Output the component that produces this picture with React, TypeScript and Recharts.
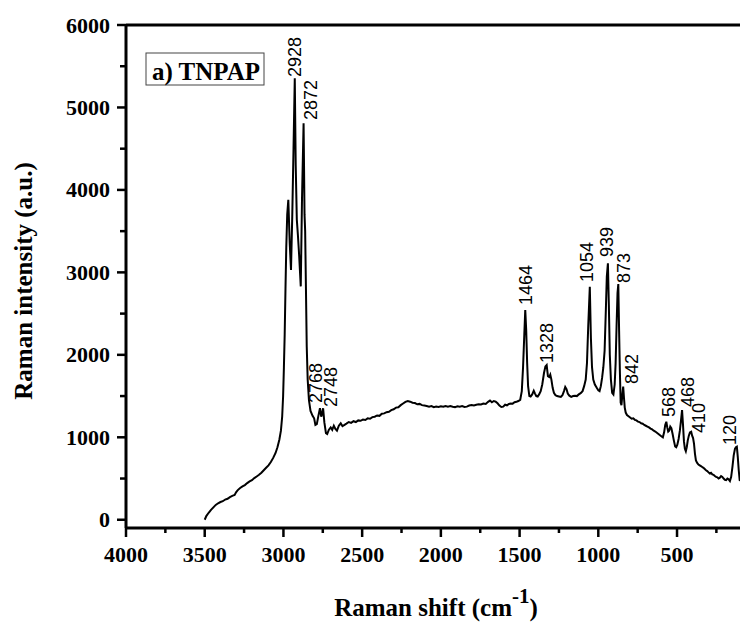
import { ComposedChart, Line, Scatter, XAxis, YAxis, ReferenceLine } from "recharts";

// Raman spectrum of TNPAP: shift (cm-1) and intensity (a.u.)
const shiftCm = [
  3500, 3490, 3475, 3460, 3445, 3430, 3415, 3400, 3385, 3370, 3355, 3340, 3325, 3310, 3300, 3290,
  3275, 3260, 3245, 3230, 3215, 3200, 3185, 3170, 3155, 3140, 3125, 3110, 3095, 3080, 3065, 3050,
  3038, 3026, 3016, 3008, 3002, 2997, 2992, 2987, 2982, 2976, 2969, 2960, 2952, 2944, 2936, 2928,
  2922, 2915, 2908, 2900, 2890, 2882, 2872, 2866, 2862, 2857, 2852, 2846, 2838, 2828, 2815, 2805,
  2797, 2788, 2778, 2768, 2760, 2755, 2748, 2740, 2730, 2722, 2712, 2700, 2690, 2680, 2670, 2660,
  2648, 2636, 2625, 2612, 2600, 2585, 2570, 2555, 2540, 2525, 2510, 2495, 2480, 2465, 2450, 2435,
  2420, 2405, 2390, 2375, 2360, 2345, 2330, 2315, 2300, 2285, 2270, 2255, 2240, 2225, 2210, 2195,
  2180, 2165, 2150, 2135, 2120, 2105, 2090, 2075, 2060, 2045, 2030, 2015, 2000, 1985, 1970, 1955,
  1940, 1925, 1910, 1895, 1880, 1865, 1850, 1835, 1820, 1805, 1790, 1775, 1760, 1745, 1730, 1715,
  1700, 1688, 1676, 1664, 1652, 1640, 1628, 1616, 1604, 1592, 1580, 1568, 1556, 1544, 1532, 1520,
  1508, 1496, 1486, 1478, 1470, 1464, 1458, 1452, 1446, 1438, 1430, 1420, 1410, 1402, 1394, 1385,
  1376, 1366, 1356, 1345, 1336, 1328, 1320, 1312, 1305, 1298, 1290, 1282, 1272, 1262, 1250, 1238,
  1228, 1218, 1210, 1202, 1194, 1184, 1172, 1160, 1148, 1136, 1124, 1112, 1100, 1090, 1080, 1072,
  1064, 1054, 1047, 1040, 1032, 1022, 1010, 1000, 992, 984, 976, 968, 960, 952, 946, 939,
  933, 927, 920, 912, 904, 896, 890, 884, 878, 873, 868, 863, 858, 853, 848, 842,
  837, 832, 826, 818, 808, 798, 788, 778, 768, 758, 748, 738, 728, 718, 708, 698,
  688, 678, 668, 658, 648, 638, 628, 618, 608, 598, 590, 582, 575, 568, 562, 556,
  550, 543, 536, 528, 520, 512, 505, 498, 490, 482, 475, 468, 462, 456, 450, 444,
  438, 432, 425, 418, 410, 404, 398, 392, 386, 380, 372, 364, 356, 348, 340, 332,
  324, 316, 308, 300, 292, 284, 276, 268, 260, 252, 244, 236, 228, 220, 212, 204,
  196, 188, 180, 172, 164, 156, 148, 140, 132, 126, 120, 114, 108, 102, 100,
];

const intensity = [
  0, 45, 85, 120, 150, 180, 200, 215, 225, 245, 255, 275, 290, 300, 335, 360,
  385, 405, 420, 445, 465, 480, 505, 525, 545, 570, 600, 630, 660, 700, 750, 810,
  880, 970, 1080, 1250, 1500, 1850, 2250, 2800, 3300, 3700, 3880, 3350, 3030, 3680, 4500, 5353,
  4300, 3640, 3450, 3200, 2830, 3900, 4808, 3700, 3500, 2800, 2100, 1700, 1450, 1320, 1260, 1230,
  1150, 1160, 1260, 1352, 1250, 1280, 1352, 1180, 1050, 1040, 1090, 1120, 1090, 1140, 1100, 1080,
  1140, 1170, 1135, 1150, 1165, 1185, 1175, 1195, 1185, 1205, 1200, 1215, 1210, 1230, 1225, 1245,
  1250, 1265, 1260, 1285, 1290, 1305, 1310, 1330, 1340, 1360, 1365, 1390, 1410, 1430, 1440, 1432,
  1420, 1415, 1400, 1405, 1390, 1385, 1380, 1372, 1378, 1365, 1372, 1368, 1375, 1370, 1380, 1372,
  1378, 1370, 1366, 1375, 1370, 1378, 1368, 1372, 1385, 1392, 1385, 1395, 1400, 1398, 1410, 1405,
  1430, 1445, 1425, 1440, 1432, 1412, 1385, 1368, 1372, 1395, 1388, 1405, 1410, 1408, 1425, 1430,
  1440, 1455, 1560, 1850, 2250, 2544, 2300, 1900, 1620, 1500, 1495, 1520, 1565, 1530, 1500, 1495,
  1520, 1560, 1640, 1780, 1860, 1877, 1740, 1730, 1760, 1700, 1600, 1540, 1510, 1500, 1495, 1490,
  1510, 1560, 1610, 1585, 1530, 1505, 1490, 1500, 1505, 1500, 1520, 1535, 1560, 1620, 1700, 1900,
  2350, 2826, 2200, 1850, 1700, 1640, 1600, 1570, 1560, 1620, 1720, 1850, 2050, 2550, 2950, 3110,
  2600, 2000, 1700, 1540, 1520, 1640, 1900, 2350, 2750, 2859, 2300, 1800, 1420, 1390, 1500, 1614,
  1480, 1360, 1300, 1270, 1255, 1240, 1225, 1230, 1212, 1205, 1190, 1185, 1170, 1165, 1150, 1140,
  1130, 1120, 1105, 1095, 1080, 1070, 1055, 1040, 1025, 1010, 1000, 1060, 1150, 1189, 1120, 1070,
  1080, 1130, 1110, 1040, 960, 890, 880, 910, 980, 1080, 1200, 1331, 1150, 950, 860, 830,
  880, 960, 1020, 1060, 1068, 1020, 990, 920, 800, 720, 690, 670, 660, 650, 640, 630,
  615, 600, 590, 575, 560, 570, 550, 545, 530, 520, 515, 500, 510, 530, 520, 500,
  485, 480, 500, 490, 470, 520, 640, 780, 860, 880, 886, 760, 600, 480, 470,
];

// peak assignments: band position, where its tag sits (cm-1) and the tag's lower end (a.u.)
const peakShift = [2928, 2872, 2768, 2748, 1464, 1328, 1054, 939, 873, 842, 568, 468, 410, 120];
const tagShift = [2928, 2831, 2799, 2698, 1464, 1328, 1078, 950, 842, 792, 557, 436, 366, 168];
const tagBase = [5370, 4848, 1416, 1368, 2604, 1901, 2883, 3186, 2871, 1646, 1246, 1368, 1052, 906];

const xTicks = [4000, 3750, 3500, 3250, 3000, 2750, 2500, 2250, 2000, 1750, 1500, 1250, 1000, 750, 500, 250];
const yTicks = [0, 500, 1000, 1500, 2000, 2500, 3000, 3500, 4000, 4500, 5000, 5500, 6000];

const spectrum = shiftCm.map((s, i) => ({ shift: s, intensity: intensity[i] }));
const peakTags = peakShift.map((p, i) => ({ shift: tagShift[i], intensity: tagBase[i], peak: p }));

const SERIF = "'Liberation Serif', 'Times New Roman', serif";
const SANS = "'Liberation Sans', Arial, sans-serif";

const XTick = (props: any) => {
  const { x, y, payload } = props;
  const major = payload.value % 500 === 0;
  return (
    <g>
      <line x1={x} x2={x} y1={y} y2={y + (major ? 9 : 5)} stroke="#000" strokeWidth={2.5} />
      {major && (
        <text x={x} y={y + 34} textAnchor="middle" fontFamily={SERIF} fontWeight="bold" fontSize={22} fill="#000">
          {payload.value}
        </text>
      )}
    </g>
  );
};

const YTick = (props: any) => {
  const { x, y, payload } = props;
  const major = payload.value % 1000 === 0;
  return (
    <g>
      <line x1={x} x2={x - (major ? 9 : 6)} y1={y} y2={y} stroke="#000" strokeWidth={2.5} />
      {major && (
        <text x={x - 16} y={y + 7.5} textAnchor="end" fontFamily={SERIF} fontWeight="bold" fontSize={22} fill="#000">
          {payload.value}
        </text>
      )}
    </g>
  );
};

const PeakTag = (props: any) => {
  const { cx, cy, payload } = props;
  return (
    <text transform={`translate(${cx + 6.5},${cy}) rotate(-90)`} fontFamily={SANS} fontSize={18} fill="#000">
      {payload.peak}
    </text>
  );
};

export default function App() {
  return (
    <div style={{ position: "absolute", left: 0, top: 0, width: 740, height: 625, background: "#fff" }}>
      <ComposedChart width={740} height={625} data={spectrum} margin={{ top: 25, right: 0, bottom: 57, left: 66 }}>
        <XAxis
          type="number"
          dataKey="shift"
          domain={[100, 4000]}
          reversed
          allowDataOverflow
          ticks={xTicks}
          interval={0}
          height={40}
          tickSize={0}
          tickMargin={0}
          tickLine={false}
          tick={<XTick />}
          axisLine={{ stroke: "#000", strokeWidth: 3 }}
        />
        <YAxis
          type="number"
          domain={[-100, 6000]}
          allowDataOverflow
          ticks={yTicks}
          interval={0}
          width={60}
          tickSize={0}
          tickMargin={0}
          tickLine={false}
          tick={<YTick />}
          axisLine={{ stroke: "#000", strokeWidth: 3 }}
        />
        <ReferenceLine y={6000} stroke="#000" strokeWidth={3} ifOverflow="visible" />
        <Line
          type="linear"
          dataKey="intensity"
          stroke="#000"
          strokeWidth={2}
          dot={false}
          isAnimationActive={false}
        />
        <Scatter data={peakTags} dataKey="intensity" shape={<PeakTag />} isAnimationActive={false} />
      </ComposedChart>
      <svg width={740} height={625} style={{ position: "absolute", left: 0, top: 0, pointerEvents: "none" }}>
        <text
          transform="translate(32,281) rotate(-90)"
          textAnchor="middle"
          fontFamily={SERIF}
          fontWeight="bold"
          fontSize={25}
          fill="#000"
        >
          Raman intensity (a.u.)
        </text>
        <text x={436} y={616} textAnchor="middle" fontFamily={SERIF} fontWeight="bold" fontSize={25} fill="#000">
          Raman shift (cm
          <tspan dy={-13} fontSize={21}>-1</tspan>
          <tspan dy={13}>)</tspan>
        </text>
        <rect x={146} y={53} width={118} height={32} fill="#fff" stroke="#444" strokeWidth={1} />
        <text x={152} y={80} fontFamily={SERIF} fontWeight="bold" fontSize={25} fill="#000">
          a) TNPAP
        </text>
      </svg>
    </div>
  );
}
